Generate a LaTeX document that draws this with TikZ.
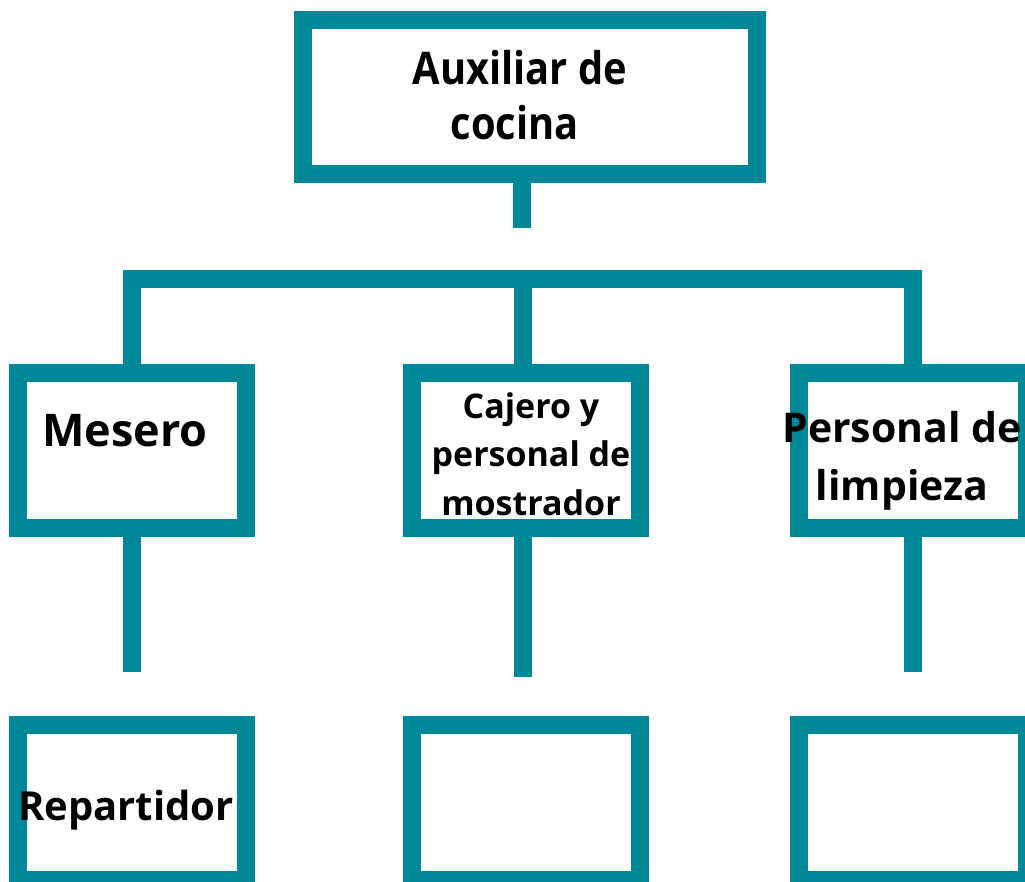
\documentclass[tikz,border=0pt]{standalone}
\usepackage{fontspec}
\usepackage{graphicx}
\setmainfont{Open Sans}
\definecolor{teal1}{RGB}{0,135,152}
\newcommand{\sqz}[1]{\scalebox{0.885}[1]{#1}}
\begin{document}
\begin{tikzpicture}[x=1pt,y=-1pt,
  box/.style={draw=teal1,line width=18pt,fill=white,outer sep=0pt,inner sep=0pt,minimum width=228pt,minimum height=155pt,miter limit=10},
  conn/.style={draw=teal1,line width=18pt,line cap=butt,line join=miter},
  lab/.style={align=center,inner sep=0pt,anchor=base,font=\bfseries}]
\useasboundingbox (0,0) rectangle (1025,881);
% boxes
\node[box,minimum width=454pt,minimum height=154pt] (top) at (530,97) {};
\node[box] (mes) at (132,450.5) {};
\node[box] (caj) at (525.75,450.5) {};
\node[box] (per) at (913,450.5) {};
\node[box] (rep) at (132,802) {};
\node[box] (b2) at (525.75,802) {};
\node[box] (b3) at (913,802) {};
% connector coordinates
\coordinate (stub) at (522,228);
\coordinate (barL) at (132,279);
\coordinate (barM) at (522.5,279);
\coordinate (barR) at (913,279);
\coordinate (e1) at (132,672);
\coordinate (e2) at (522.5,677);
\coordinate (e3) at (913,672);
% connectors
\draw[conn] (top.south -| stub) -- (stub);
\draw[conn] (mes.north) -- (barL) -- (barR) -- (per.north);
\draw[conn] (barM) -- (caj.north -| barM);
\draw[conn] (mes.south) -- (e1);
\draw[conn] (caj.south -| e2) -- (e2);
\draw[conn] (per.south) -- (e3);
% texts (base anchor = baseline of last line)
\node[lab,font=\bfseries\fontsize{45}{55}\selectfont] (t1) at (520,139) {\sqz{Auxiliar de}\\\sqz{cocina\hspace*{0.26em}}};
\node[lab,font=\bfseries\fontsize{45}{56}\selectfont] (t2) at (125,446) {Mesero};
\node[lab,font=\bfseries\fontsize{34}{48.5}\selectfont] (t3) at (531,515) {Cajero y\\personal de\\mostrador};
\node[lab,font=\bfseries\fontsize{41}{58}\selectfont] (t4) at (902,500) {Personal de\\limpieza};
\node[lab,font=\bfseries\fontsize{40}{50}\selectfont] (t5) at (126,820) {Repartidor};
\end{tikzpicture}
\end{document}
